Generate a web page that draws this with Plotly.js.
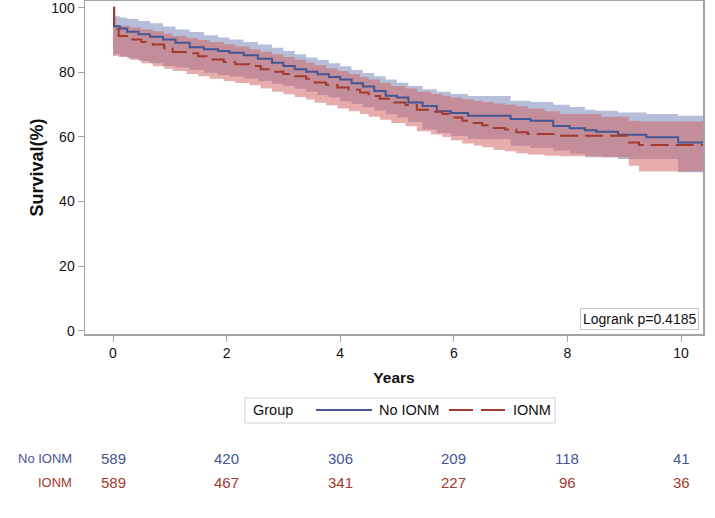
<!DOCTYPE html>
<html>
<head>
<meta charset="utf-8">
<script src="https://cdn.plot.ly/plotly-3.0.1.min.js"></script>
<style>html,body{margin:0;padding:0;background:#fff;}#chart{width:715px;height:518px;}</style>
</head>
<body>
<div id="chart"></div>
<script>
// ---- Data ----
const noTime  = [0, 0.02, 0.12, 0.25, 0.45, 0.65, 0.88, 1.1, 1.35, 1.6, 1.85, 2.05, 2.3, 2.55, 2.8, 3.0, 3.2, 3.4, 3.6, 3.8, 4.0, 4.2, 4.4, 4.6, 4.8, 5.0, 5.2, 5.45, 5.7, 5.95, 6.25, 7.0, 7.35, 7.75, 8.04, 8.31, 8.51, 8.89, 9.39, 9.95, 10.42];
const noSurv  = [100, 94.3, 93.6, 92.6, 91.8, 91.0, 90.2, 89.2, 87.8, 87.2, 86.6, 86.1, 85.3, 84.2, 83.0, 82.0, 81.0, 80.2, 79.4, 78.6, 77.8, 76.6, 75.6, 74.2, 72.8, 72.2, 70.7, 69.6, 68.0, 67.4, 66.6, 65.6, 65.0, 63.4, 62.7, 62.1, 61.6, 60.7, 59.9, 58.3, 58.3];
const noUpper = [97.4, 97.4, 97.0, 96.5, 95.9, 95.2, 94.2, 93.3, 92.5, 91.5, 90.8, 90.2, 89.4, 88.6, 87.6, 86.6, 85.6, 84.6, 83.8, 82.8, 81.9, 80.7, 79.8, 78.8, 77.8, 76.8, 75.8, 74.8, 74.0, 73.3, 72.7, 71.2, 70.8, 70.0, 69.3, 68.4, 68.1, 67.6, 67.1, 66.6, 66.6];
const noLower = [85.6, 85.6, 85.0, 84.3, 83.5, 82.8, 82.0, 81.5, 80.7, 79.9, 79.2, 78.7, 78.0, 77.3, 76.5, 75.8, 74.9, 74.0, 73.0, 72.2, 71.0, 70.2, 69.2, 68.2, 67.0, 66.0, 64.6, 62.3, 61.2, 60.3, 59.4, 57.3, 56.6, 55.8, 54.8, 53.7, 53.7, 53.2, 53.2, 49.1, 49.1];

const ionmTime  = [0, 0.02, 0.1, 0.3, 0.5, 0.7, 0.9, 1.05, 1.3, 1.5, 1.7, 1.95, 2.15, 2.4, 2.6, 2.8, 3.0, 3.2, 3.4, 3.55, 3.75, 3.95, 4.15, 4.35, 4.5, 4.7, 4.9, 5.15, 5.35, 5.6, 5.8, 5.95, 6.15, 6.35, 6.5, 6.7, 6.9, 7.1, 7.3, 7.6, 7.87, 8.6, 9.08, 9.26, 10.42];
const ionmSurv  = [100, 93.4, 91.3, 90.2, 89.4, 88.6, 87.5, 86.3, 85.9, 85.0, 84.0, 83.2, 82.5, 82.0, 81.0, 80.2, 79.5, 78.8, 78.0, 76.9, 76.2, 75.3, 74.6, 73.8, 72.7, 71.8, 70.7, 69.9, 68.4, 67.8, 67.1, 66.0, 65.0, 64.3, 63.6, 62.8, 62.3, 61.5, 60.9, 60.9, 60.4, 60.4, 58.3, 57.5, 57.5];
const ionmUpper = [94.6, 94.6, 94.4, 93.9, 93.3, 92.7, 92.0, 91.3, 90.6, 90.0, 89.4, 88.7, 88.0, 87.2, 86.4, 85.6, 84.8, 83.9, 83.0, 82.2, 81.3, 80.4, 79.5, 78.6, 77.8, 76.8, 75.8, 75.0, 74.0, 73.3, 72.8, 72.2, 71.7, 71.2, 70.8, 70.4, 70.0, 69.5, 68.8, 68.0, 67.1, 66.3, 65.0, 64.8, 64.8];
const ionmLower = [85.1, 85.1, 84.8, 83.9, 82.8, 81.9, 81.1, 80.4, 79.5, 78.8, 78.0, 77.3, 76.7, 76.0, 75.0, 74.0, 73.2, 72.4, 71.6, 70.6, 69.8, 68.8, 68.0, 67.1, 66.3, 65.3, 64.3, 63.3, 61.8, 60.8, 60.0, 59.0, 58.0, 57.4, 56.8, 56.0, 55.6, 55.0, 54.6, 54.2, 54.0, 53.7, 51.1, 49.3, 49.3];

const groupNames = ["No IONM", "IONM"];
const riskTimes  = [0, 2, 4, 6, 8, 10];
const noRisk     = [589, 420, 306, 209, 118, 41];
const ionmRisk   = [589, 467, 341, 227, 96, 36];
const xTicks     = [0, 2, 4, 6, 8, 10];
const yTicks     = [0, 20, 40, 60, 80, 100];
const pText      = "Logrank p=0.4185";

// ---- Styles ----
const FONT = "Arial, 'Liberation Sans', sans-serif";
const BLUE = "#445694", RED = "#A23A2E";
const BLUE_FILL = "rgba(111,126,179,0.5)", RED_FILL = "rgba(208,91,91,0.5)";
const AX = "#a3a3a3";

// plot-area pixel geometry helpers (for paper coords of legend/risk table)
const L = 85, R = 12, T = 1, B = 184, W = 715, H = 518;
const pw = W - L - R, ph = H - T - B;
const px = v => (v - L) / pw;
const py = v => (H - B - v) / ph;

const band = (t, up, lo, fill) => [
  {x: t, y: up, type: "scatter", mode: "lines", line: {width: 0, shape: "hv"}, hoverinfo: "skip", showlegend: false},
  {x: t, y: lo, type: "scatter", mode: "lines", line: {width: 0, shape: "hv"}, fill: "tonexty", fillcolor: fill, hoverinfo: "skip", showlegend: false}
];

const data = [
  ...band(noTime, noUpper, noLower, BLUE_FILL),
  ...band(ionmTime, ionmUpper, ionmLower, RED_FILL),
  {x: noTime, y: noSurv, type: "scatter", mode: "lines", name: groupNames[0], line: {color: BLUE, width: 2, shape: "hv"}, showlegend: false},
  {x: ionmTime, y: ionmSurv, type: "scatter", mode: "lines", name: groupNames[1], line: {color: RED, width: 2, shape: "hv", dash: "18px,7px"}, showlegend: false}
];

const LEG = 14.5;
const annotations = [
  {xref: "paper", yref: "paper", x: 0.994, y: 0.012, xanchor: "right", yanchor: "bottom", text: pText, showarrow: false,
   font: {family: FONT, size: 14, color: "#111"}, bordercolor: "#c8c8c8", borderwidth: 1, borderpad: 2, bgcolor: "#fff"},
  {xref: "paper", yref: "paper", x: px(251), y: py(410), xanchor: "left", yanchor: "middle", text: "Group", showarrow: false,
   font: {family: FONT, size: LEG, color: "#111"}},
  {xref: "paper", yref: "paper", x: px(377), y: py(410), xanchor: "left", yanchor: "middle", text: groupNames[0], showarrow: false,
   font: {family: FONT, size: LEG, color: "#111"}},
  {xref: "paper", yref: "paper", x: px(511), y: py(410), xanchor: "left", yanchor: "middle", text: groupNames[1], showarrow: false,
   font: {family: FONT, size: LEG, color: "#111"}},
  {xref: "paper", yref: "paper", x: px(74), y: py(458), xanchor: "right", yanchor: "middle", text: groupNames[0], showarrow: false,
   font: {family: FONT, size: 13, color: BLUE}},
  {xref: "paper", yref: "paper", x: px(74), y: py(482), xanchor: "right", yanchor: "middle", text: groupNames[1], showarrow: false,
   font: {family: FONT, size: 13, color: RED}}
];
riskTimes.forEach((t, i) => {
  annotations.push({xref: "x", yref: "paper", x: t, y: py(458), xanchor: "center", yanchor: "middle", text: String(noRisk[i]), showarrow: false,
    font: {family: FONT, size: 15, color: BLUE}});
  annotations.push({xref: "x", yref: "paper", x: t, y: py(482), xanchor: "center", yanchor: "middle", text: String(ionmRisk[i]), showarrow: false,
    font: {family: FONT, size: 15, color: RED}});
});

const shapes = [
  {type: "rect", xref: "paper", yref: "paper", x0: px(245), x1: px(555), y0: py(423), y1: py(398), line: {color: "#cfcfcf", width: 1}, fillcolor: "rgba(0,0,0,0)"},
  {type: "line", xref: "paper", yref: "paper", x0: px(316), x1: px(372), y0: py(410), y1: py(410), line: {color: BLUE, width: 2}},
  {type: "line", xref: "paper", yref: "paper", x0: px(449), x1: px(505), y0: py(410), y1: py(410), line: {color: RED, width: 2, dash: "24px,8px"}}
];

const layout = {
  width: W, height: H,
  margin: {l: L, r: R, t: T, b: B},
  paper_bgcolor: "#fff", plot_bgcolor: "#fff",
  font: {family: FONT, size: 14, color: "#111"},
  showlegend: false,
  xaxis: {
    range: [-0.493, 10.387], tickvals: xTicks, ticktext: xTicks.map(String),
    showgrid: false, zeroline: false, showline: true, mirror: true, linecolor: AX, linewidth: 1.5,
    ticks: "outside", ticklen: 6, tickcolor: AX, tickfont: {family: FONT, size: 14, color: "#111"},
    title: {text: "<b>Years</b>", font: {family: FONT, size: 15.5, color: "#111"}, standoff: 12}
  },
  yaxis: {
    range: [-1.0, 102.1], tickvals: yTicks, ticktext: yTicks.map(String),
    showgrid: false, zeroline: false, showline: true, mirror: true, linecolor: AX, linewidth: 1.5,
    ticks: "outside", ticklen: 6, tickcolor: AX, tickfont: {family: FONT, size: 14, color: "#111"},
    ticklabeloverflow: "allow",
    title: {text: "<b>Survival(%)</b>", font: {family: FONT, size: 18, color: "#111"}, standoff: 3}
  },
  annotations: annotations,
  shapes: shapes
};

Plotly.newPlot("chart", data, layout, {displayModeBar: false, staticPlot: true});
</script>
</body>
</html>
